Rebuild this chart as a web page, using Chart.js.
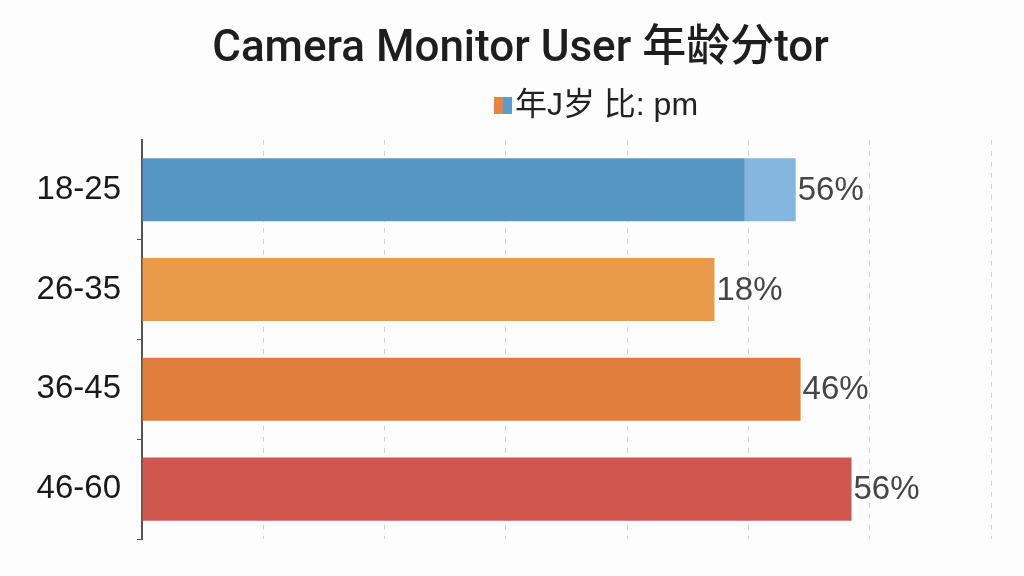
<!DOCTYPE html>
<html>
<head>
<meta charset="utf-8">
<script src="https://cdn.jsdelivr.net/npm/chart.js@4.4.1/dist/chart.umd.min.js"></script>
<style>
  html, body { margin: 0; padding: 0; background: #fdfdfd; }
  #wrap { width: 1024px; height: 576px; }
</style>
</head>
<body>
<div id="wrap"><canvas id="grafico"></canvas></div>
<script>
// datos
const categorias = ['18-25', '26-35', '36-45', '46-60'];
const valores = [49.7, 47.2, 54.3, 58.5];
const extraClaro = [4.2, 0, 0, 0]; // tramo claro al final de la primera barra
const etiquetas = ['56%', '18%', '46%', '56%'];
const colores = ['#5596c5', '#e99a48', '#e17d3b', '#cf574d'];
const ticksX = [0, 10, 20, 30, 40, 50, 60, 70];

const fuente = '"Liberation Sans", Arial, "Noto Sans CJK SC", sans-serif';
const tamLeyenda = 32;

// cuadrito de la leyenda (mitad naranja, mitad azul), pegado al texto
const cuadro = document.createElement('canvas');
cuadro.width = 18 + tamLeyenda - 6; cuadro.height = 17;
const cctx = cuadro.getContext('2d');
cctx.fillStyle = '#e8843c';
cctx.fillRect(cuadro.width - 18, 0, 9, 17);
cctx.fillStyle = '#5a9bd0';
cctx.fillRect(cuadro.width - 9, 0, 9, 17);

// dibuja el porcentaje al final de cada barra
const etiquetasPlugin = {
    id: 'etiquetasBarras',
    afterLayout(chart) {
        // la leyenda y el titulo van algo corridos
        chart.legend.left += 188;
        chart.legend.top -= 8;
        chart.titleBlock.left += 50;
        chart.titleBlock.top += 2;
    },
    afterDatasetsDraw(chart) {
        const ctx = chart.ctx;
        ctx.save();
        ctx.font = '33px ' + fuente;
        ctx.fillStyle = '#464646';
        ctx.textBaseline = 'middle';
        ctx.textAlign = 'left';
        chart.getDatasetMeta(0).data.forEach(function(bar, i) {
            let fin = bar.x;
            const extra = chart.getDatasetMeta(1).data[i];
            if (extraClaro[i] > 0 && extra) fin = Math.max(fin, extra.x);
            ctx.fillText(etiquetas[i], fin + 2, bar.y + 1);
        });
        ctx.restore();
    }
};

const ctx = document.getElementById('grafico');

new Chart(ctx, {
    type: 'bar',
    data: {
        labels: categorias,
        datasets: [{
            label: '年J岁 比: pm',
            data: valores,
            backgroundColor: colores,
            borderWidth: 0,
            barPercentage: 0.9,
            categoryPercentage: 0.703
        }, {
            label: 'extra',
            data: extraClaro,
            backgroundColor: '#84b6df',
            borderWidth: 0,
            barPercentage: 0.9,
            categoryPercentage: 0.703
        }]
    },
    options: {
        indexAxis: 'y',
        responsive: true,
        maintainAspectRatio: false,
        animation: false,
        layout: {
            padding: { left: 0, right: 33, top: 8, bottom: 37 }
        },
        plugins: {
            title: {
                display: true,
                text: 'Camera Monitor User 年龄分tor',
                color: '#1e1e1e',
                font: { size: 44, weight: '500', family: 'Roboto, ' + fuente },
                padding: { top: 14, bottom: 12 }
            },
            legend: {
                display: true,
                labels: {
                    usePointStyle: true,
                    pointStyle: cuadro,
                    pointStyleWidth: 18,
                    color: '#222',
                    font: { size: tamLeyenda, family: fuente },
                    padding: 11,
                    generateLabels: function(chart) {
                        return [{
                            text: chart.data.datasets[0].label,
                            pointStyle: cuadro,
                            fillStyle: '#e8843c',
                            strokeStyle: 'transparent',
                            lineWidth: 0,
                            datasetIndex: 0,
                            fontColor: '#222'
                        }];
                    }
                }
            },
            tooltip: { enabled: false }
        },
        scales: {
            x: {
                stacked: true,
                min: 0,
                max: 70,
                afterBuildTicks: function(axis) {
                    axis.ticks = ticksX.map(function(v) { return { value: v }; });
                },
                ticks: { display: false },
                grid: {
                    color: '#d2d2d2',
                    lineWidth: 1,
                    drawTicks: false
                },
                border: { display: false, dash: [5, 6] }
            },
            y: {
                stacked: true,
                afterFit: function(axis) { axis.width = 142; },
                ticks: {
                    color: '#1a1a1a',
                    padding: 16,
                    font: { size: 33, family: fuente }
                },
                grid: {
                    drawOnChartArea: false,
                    tickLength: 5,
                    color: function(c) {
                        return (c.index === 0 || c.index === categorias.length) ? 'rgba(0,0,0,0)' : '#555';
                    }
                },
                border: { display: true, color: '#555', width: 2 }
            }
        }
    },
    plugins: [etiquetasPlugin]
});
</script>
</body>
</html>
